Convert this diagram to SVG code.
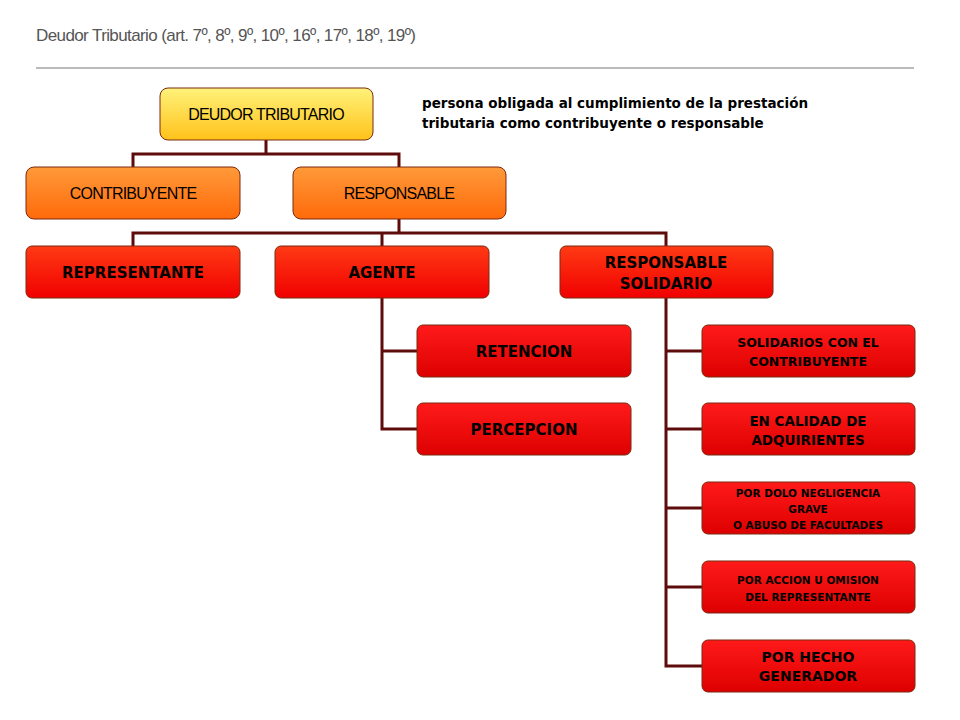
<svg xmlns="http://www.w3.org/2000/svg" width="960" height="720" viewBox="0 0 960 720">
<defs>
<linearGradient id="gy" x1="0" y1="0" x2="0" y2="1"><stop offset="0" stop-color="#fff27a"/><stop offset="1" stop-color="#ffc21a"/></linearGradient>
<linearGradient id="go" x1="0" y1="0" x2="0" y2="1"><stop offset="0" stop-color="#ff9a3a"/><stop offset="1" stop-color="#ff6a0a"/></linearGradient>
<linearGradient id="gr" x1="0" y1="0" x2="0" y2="1"><stop offset="0" stop-color="#ff3a14"/><stop offset="1" stop-color="#f00000"/></linearGradient>
<linearGradient id="gd" x1="0" y1="0" x2="0" y2="1"><stop offset="0" stop-color="#ff1a1a"/><stop offset="1" stop-color="#dd0000"/></linearGradient>
</defs>
<style>
.b{stroke:#7a2a10;stroke-width:1}
.a{font-family:"Liberation Sans",Arial,sans-serif;font-size:16px;letter-spacing:-0.8px;fill:#000;text-anchor:middle}
.v{font-family:"DejaVu Sans",Verdana,sans-serif;font-weight:bold;fill:#000;text-anchor:middle}
.c{fill:none;stroke:#5e0b0b;stroke-width:3}
</style>
<rect width="960" height="720" fill="#fff"/>
<text x="36" y="41" font-family="Liberation Sans,Arial,sans-serif" font-size="17" fill="#555" letter-spacing="-0.6">Deudor Tributario (art. 7º, 8º, 9º, 10º, 16º, 17º, 18º, 19º)</text>
<line x1="36" y1="68" x2="914" y2="68" stroke="#777" stroke-width="1"/>
<text font-family="DejaVu Sans,Verdana,sans-serif" font-weight="bold" font-size="13.5" fill="#000"><tspan x="422" y="108">persona obligada al cumplimiento de la prestación</tspan><tspan x="422" y="128">tributaria como contribuyente o responsable</tspan></text>
<g id="connectors">
<path class="c" d="M266 140V154M133 167V154H399V167"/>
<path class="c" d="M399 219V233M133 246V233H666V246M382 233V246"/>
<path class="c" d="M382 298V429H417M382 351H417"/>
<path class="c" d="M666 298V666H702M666 351H702M666 429H702M666 508H702M666 587H702"/>
</g>
<g id="n-deudor"><rect class="b" x="160" y="88" width="213" height="52" rx="8" fill="url(#gy)"/><text class="a" x="266" y="120">DEUDOR TRIBUTARIO</text></g>
<g id="n-contribuyente"><rect class="b" x="26" y="167" width="214" height="52" rx="8" fill="url(#go)"/><text class="a" x="133" y="199">CONTRIBUYENTE</text></g>
<g id="n-responsable"><rect class="b" x="293" y="167" width="213" height="52" rx="8" fill="url(#go)"/><text class="a" x="399" y="199">RESPONSABLE</text></g>
<g id="n-representante"><rect class="b" x="26" y="246" width="214" height="52" rx="6" fill="url(#gr)"/><text class="v" x="133" y="278" font-size="15">REPRESENTANTE</text></g>
<g id="n-agente"><rect class="b" x="275" y="246" width="214" height="52" rx="6" fill="url(#gr)"/><text class="v" x="382" y="278" font-size="15">AGENTE</text></g>
<g id="n-solidario"><rect class="b" x="560" y="246" width="213" height="52" rx="6" fill="url(#gr)"/><text class="v" x="666" y="268" font-size="15">RESPONSABLE</text><text class="v" x="666" y="289" font-size="15">SOLIDARIO</text></g>
<g id="n-retencion"><rect class="b" x="417" y="325" width="214" height="52" rx="6" fill="url(#gd)"/><text class="v" x="524" y="357" font-size="15">RETENCION</text></g>
<g id="n-percepcion"><rect class="b" x="417" y="403" width="214" height="52" rx="6" fill="url(#gd)"/><text class="v" x="524" y="435" font-size="15">PERCEPCION</text></g>
<g id="n-s1"><rect class="b" x="702" y="325" width="213" height="52" rx="6" fill="url(#gd)"/><text class="v" x="808" y="347" font-size="12.5">SOLIDARIOS CON EL</text><text class="v" x="808" y="366" font-size="12.5">CONTRIBUYENTE</text></g>
<g id="n-s2"><rect class="b" x="702" y="403" width="213" height="52" rx="6" fill="url(#gd)"/><text class="v" x="808" y="426" font-size="13.5">EN CALIDAD DE</text><text class="v" x="808" y="445" font-size="13.5">ADQUIRIENTES</text></g>
<g id="n-s3"><rect class="b" x="702" y="482" width="213" height="52" rx="6" fill="url(#gd)"/><text class="v" x="808" y="497" font-size="10.5">POR DOLO NEGLIGENCIA</text><text class="v" x="808" y="513" font-size="10.5">GRAVE</text><text class="v" x="808" y="529" font-size="10.5">O ABUSO DE FACULTADES</text></g>
<g id="n-s4"><rect class="b" x="702" y="561" width="213" height="52" rx="6" fill="url(#gd)"/><text class="v" x="808" y="584" font-size="10.5">POR ACCION U OMISION</text><text class="v" x="808" y="601" font-size="10.5">DEL REPRESENTANTE</text></g>
<g id="n-s5"><rect class="b" x="702" y="640" width="213" height="52" rx="6" fill="url(#gd)"/><text class="v" x="808" y="662" font-size="14">POR HECHO</text><text class="v" x="808" y="681" font-size="14">GENERADOR</text></g>
</svg>
